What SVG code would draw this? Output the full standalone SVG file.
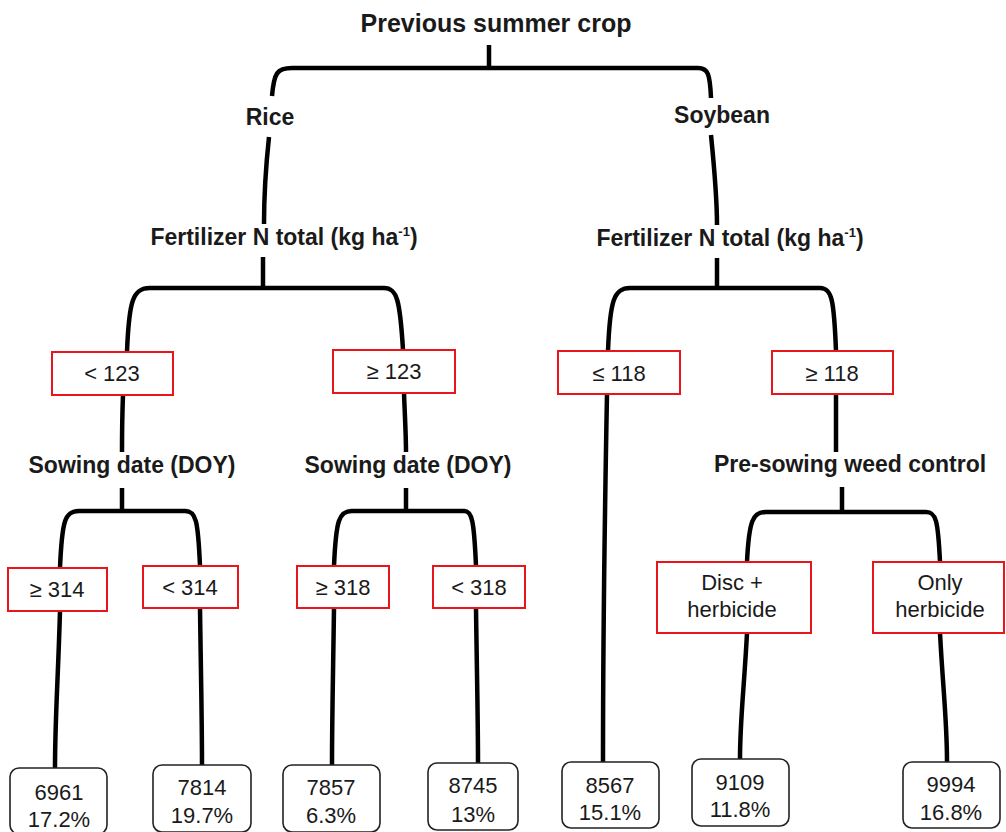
<svg xmlns="http://www.w3.org/2000/svg" width="1006" height="832" viewBox="0 0 1006 832">
<style>
.lbl{font-family:"Liberation Sans",Arial,sans-serif;font-weight:bold;font-size:23px;fill:#1a1a1a;text-anchor:middle}
.ttl{font-size:25px}
.txt{font-family:"Liberation Sans",Arial,sans-serif;font-size:22px;fill:#1a1a1a;text-anchor:middle}
.cond{fill:#fff;stroke:#e8151b;stroke-width:2}
.leaf{fill:#fff;stroke:#222;stroke-width:1.6}
.con path{fill:none;stroke:#000;stroke-width:4.5;stroke-linecap:butt;stroke-linejoin:round}
</style>
<rect width="1006" height="832" fill="#fff"/>
<g id="connectors" class="con">
<path d="M489,45 V68"/>
<path d="M272,96 C274,73 277,68 292,68 H698 C708,68 710,74 711,98"/>
<path d="M269,137 C266,165 264,195 264,224"/>
<path d="M711,135 C714,165 717,195 717,225"/>
<path d="M263,257 V288"/>
<path d="M127,352 C129,300 133,288 150,288 H384 C397,288 400,300 403,350"/>
<path d="M717,258 V288"/>
<path d="M608,351 C610,300 614,288 630,288 H820 C832,288 834,300 836,351"/>
<path d="M123,395 C122,420 122,435 122,452"/>
<path d="M122,488 V511"/>
<path d="M60,568 C62,520 65,511 79,511 H185 C196,511 198,520 200,566"/>
<path d="M404,393 C405,420 406,435 406,452"/>
<path d="M406,488 V511"/>
<path d="M334,566 C336,520 339,511 352,511 H464 C472,511 474,520 476,566"/>
<path d="M836,394 V452"/>
<path d="M842,487 V512"/>
<path d="M747,562 C749,520 753,512 766,512 H926 C936,512 938,520 940,562"/>
<path d="M607,394 C605,500 603,650 603,762"/>
<path d="M60,611 C58,680 55,720 55,768"/>
<path d="M200,608 C201,680 202,720 202,765"/>
<path d="M334,608 C333,680 332,720 332,765"/>
<path d="M476,608 C477,680 478,720 478,763"/>
<path d="M747,633 C744,690 740,720 740,759"/>
<path d="M940,633 C943,690 947,720 947,762"/>
</g>
<g id="root"><text class="lbl ttl" x="496" y="32">Previous summer crop</text></g>
<g id="rice"><text class="lbl" x="270" y="125">Rice</text></g>
<g id="soybean"><text class="lbl" x="722" y="123">Soybean</text></g>
<g id="fert-left"><text class="lbl" x="284" y="245">Fertilizer N total (kg ha<tspan font-size="13" dy="-9">-1</tspan><tspan dy="9">)</tspan></text></g>
<g id="fert-right"><text class="lbl" x="730" y="246">Fertilizer N total (kg ha<tspan font-size="13" dy="-9">-1</tspan><tspan dy="9">)</tspan></text></g>
<g id="c-lt123"><rect class="cond" x="52" y="352" width="121" height="43"/><text class="txt" x="112" y="381">&lt; 123</text></g>
<g id="c-ge123"><rect class="cond" x="333" y="350" width="122" height="43"/><text class="txt" x="394" y="379">≥ 123</text></g>
<g id="c-le118"><rect class="cond" x="558" y="351" width="122" height="43"/><text class="txt" x="619" y="381">≤ 118</text></g>
<g id="c-ge118"><rect class="cond" x="772" y="351" width="121" height="43"/><text class="txt" x="832" y="381">≥ 118</text></g>
<g id="sow-left"><text class="lbl" x="132" y="473">Sowing date (DOY)</text></g>
<g id="sow-right"><text class="lbl" x="408" y="473">Sowing date (DOY)</text></g>
<g id="weed"><text class="lbl" x="850" y="472">Pre-sowing weed control</text></g>
<g id="c-ge314"><rect class="cond" x="8" y="568" width="99" height="43"/><text class="txt" x="57" y="597">≥ 314</text></g>
<g id="c-lt314"><rect class="cond" x="143" y="566" width="95" height="42"/><text class="txt" x="190" y="595">&lt; 314</text></g>
<g id="c-ge318"><rect class="cond" x="297" y="566" width="92" height="42"/><text class="txt" x="343" y="595">≥ 318</text></g>
<g id="c-lt318"><rect class="cond" x="433" y="566" width="92" height="42"/><text class="txt" x="479" y="595">&lt; 318</text></g>
<g id="c-disc"><rect class="cond" x="657" y="562" width="154" height="71"/><text class="txt" x="732" y="590">Disc +</text><text class="txt" x="732" y="617">herbicide</text></g>
<g id="c-only"><rect class="cond" x="873" y="562" width="131" height="71"/><text class="txt" x="940" y="590">Only</text><text class="txt" x="940" y="617">herbicide</text></g>
<g id="leaf1"><rect class="leaf" x="10" y="768" width="97" height="66" rx="9"/><text class="txt" x="59" y="800">6961</text><text class="txt" x="59" y="827">17.2%</text></g>
<g id="leaf2"><rect class="leaf" x="153" y="765" width="98" height="67" rx="9"/><text class="txt" x="202" y="795">7814</text><text class="txt" x="202" y="823">19.7%</text></g>
<g id="leaf3"><rect class="leaf" x="283" y="765" width="97" height="67" rx="9"/><text class="txt" x="331" y="795">7857</text><text class="txt" x="331" y="823">6.3%</text></g>
<g id="leaf4"><rect class="leaf" x="428" y="763" width="90" height="67" rx="9"/><text class="txt" x="473" y="793">8745</text><text class="txt" x="473" y="822">13%</text></g>
<g id="leaf5"><rect class="leaf" x="562" y="762" width="97" height="66" rx="9"/><text class="txt" x="610" y="793">8567</text><text class="txt" x="610" y="820">15.1%</text></g>
<g id="leaf6"><rect class="leaf" x="692" y="759" width="97" height="67" rx="9"/><text class="txt" x="740" y="790">9109</text><text class="txt" x="740" y="817">11.8%</text></g>
<g id="leaf7"><rect class="leaf" x="903" y="762" width="97" height="66" rx="9"/><text class="txt" x="951" y="792">9994</text><text class="txt" x="951" y="820">16.8%</text></g>
</svg>
